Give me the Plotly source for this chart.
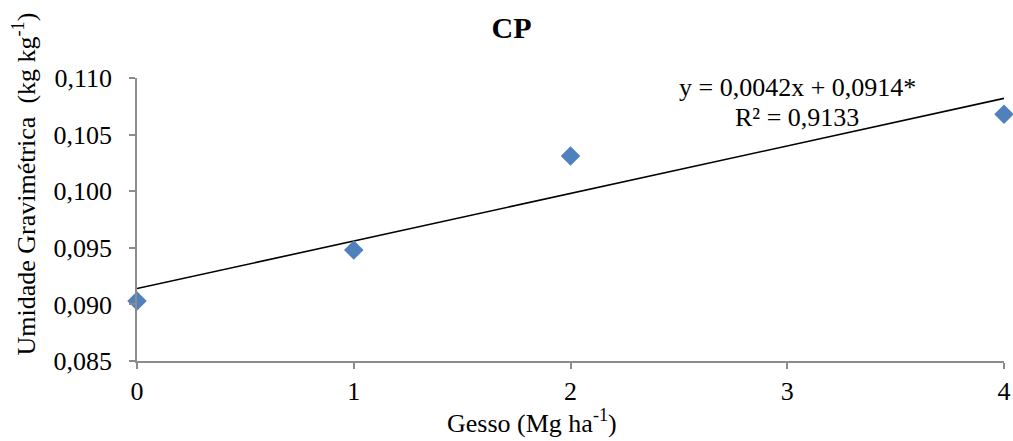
import plotly.graph_objects as go

# Gypsum rate (Mg/ha) and gravimetric moisture (kg/kg)
gesso = [0, 1, 2, 4]
umidade = [0.0903, 0.0948, 0.1031, 0.1068]

# Fitted linear trend
slope = 0.0042
intercept = 0.0914
eq_text = "y = 0,0042x + 0,0914*"
r2_text = "R² = 0,9133"

y_ticks = [0.085, 0.090, 0.095, 0.100, 0.105, 0.110]
y_tick_labels = ["0,085", "0,090", "0,095", "0,100", "0,105", "0,110"]
x_ticks = [0, 1, 2, 3, 4]

FONT = "Liberation Serif, Times New Roman, serif"
TXT = dict(family=FONT, size=26, color="black")

trend_x = [0, 4]
trend_y = [intercept + slope * x for x in trend_x]

fig = go.Figure()
fig.add_trace(go.Scatter(
    x=trend_x, y=trend_y, mode="lines",
    line=dict(color="black", width=1.6), showlegend=False, hoverinfo="skip",
))
fig.add_trace(go.Scatter(
    x=gesso, y=umidade, mode="markers",
    marker=dict(symbol="diamond", size=15, color="#4F81BD"),
    showlegend=False, cliponaxis=False,
))

# Regression equation and coefficient of determination
fig.add_annotation(x=3.046, y=0.10912, xref="x", yref="y", showarrow=False,
                   text=eq_text, font=TXT)
fig.add_annotation(x=3.046, y=0.10647, xref="x", yref="y", showarrow=False,
                   text=r2_text, font=TXT)

# Axis titles
fig.add_annotation(x=-0.1292, y=0.627, xref="paper", yref="paper", showarrow=False,
                   text="Umidade Gravimétrica  (kg kg<sup>-1</sup>)", textangle=-90,
                   font=TXT, xanchor="center", yanchor="middle")
fig.add_annotation(x=0.4556, y=-0.213, xref="paper", yref="paper", showarrow=False,
                   text="Gesso (Mg ha<sup>-1</sup>)", font=TXT,
                   xanchor="center", yanchor="middle")

fig.update_layout(
    width=1013, height=441,
    margin=dict(l=137, r=9, t=78, b=80),
    paper_bgcolor="white", plot_bgcolor="white",
    font=dict(family=FONT, color="black"),
    title=dict(text="<b>CP</b>", x=0.505, xanchor="center", y=0.938, yanchor="middle",
               font=dict(family=FONT, size=30, color="black")),
)
axis_style = dict(
    showgrid=False, zeroline=False, automargin=False,
    showline=True, linecolor="#8c8c8c", linewidth=1.5,
    ticks="outside", ticklen=6, tickcolor="#8c8c8c", tickwidth=1.5,
    tickfont=TXT,
)
fig.update_xaxes(range=[0, 4], tickvals=x_ticks, **axis_style)
fig.update_yaxes(range=[0.085, 0.110], tickvals=y_ticks, ticktext=y_tick_labels,
                 ticklabelstandoff=12, **axis_style)

fig.write_html("out.html")
